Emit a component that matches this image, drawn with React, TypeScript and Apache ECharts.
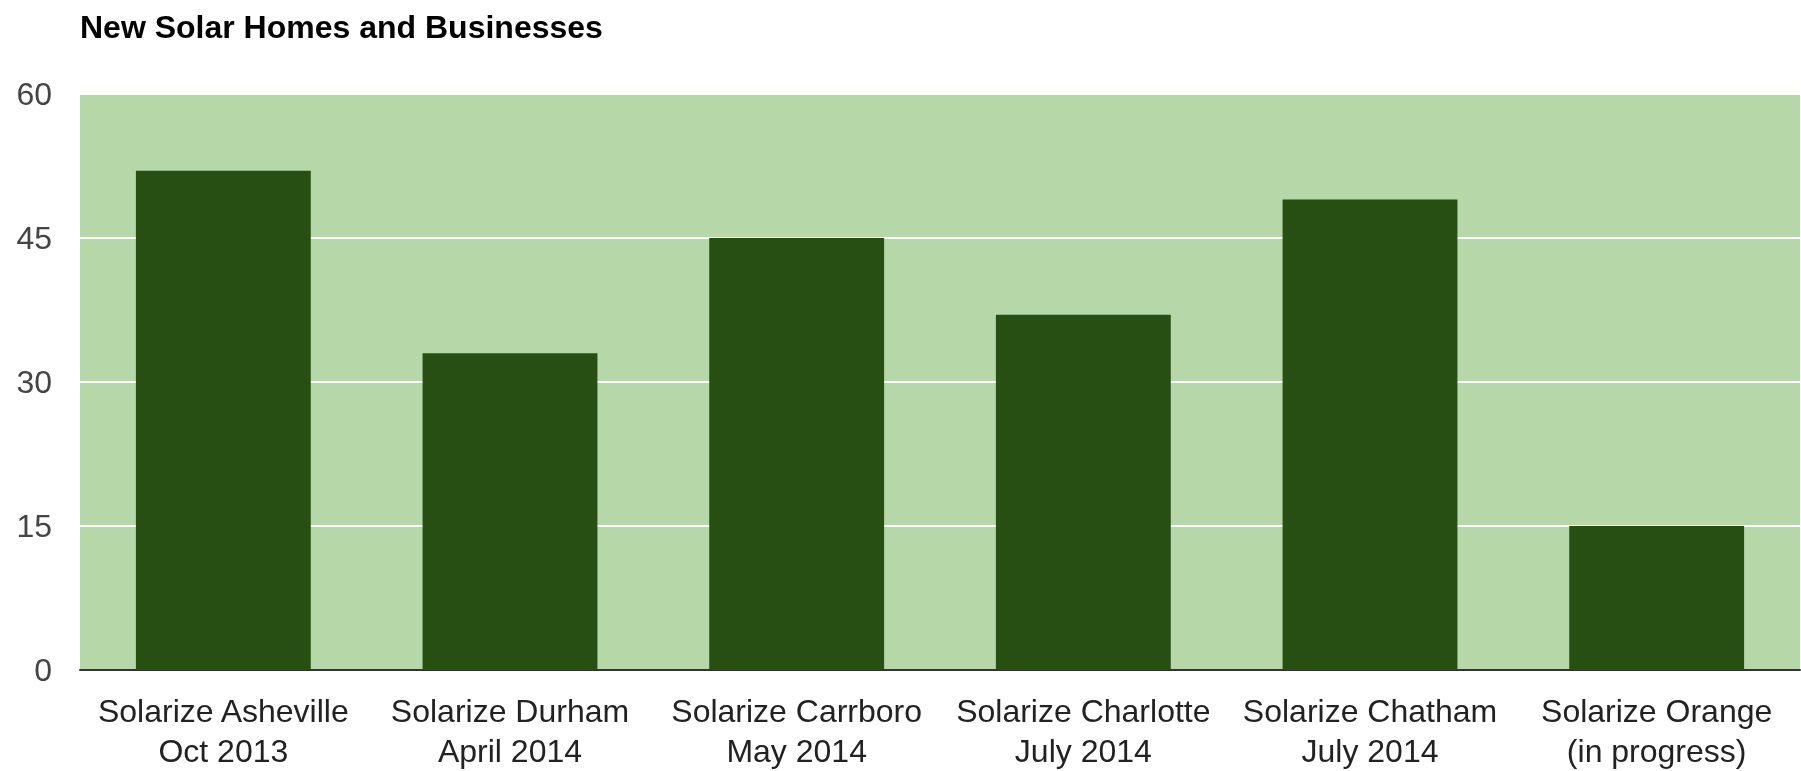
import React, { useEffect, useRef } from "react";
import * as echarts from "echarts";

const categories = [
  "Solarize Asheville\nOct 2013",
  "Solarize Durham\nApril 2014",
  "Solarize Carrboro\nMay 2014",
  "Solarize Charlotte\nJuly 2014",
  "Solarize Chatham\nJuly 2014",
  "Solarize Orange\n(in progress)",
];
const values = [52, 33, 45, 37, 49, 15];
const yTicks = [0, 15, 30, 45, 60];
const title = "New Solar Homes and Businesses";

export default function App() {
  const ref = useRef<HTMLDivElement>(null);
  useEffect(() => {
    document.body.style.margin = "0";
    const chart = echarts.init(ref.current!, null, { renderer: "svg" });
    chart.setOption({
      animation: false,
      textStyle: { fontFamily: "Liberation Sans, Arial, sans-serif" },
      title: {
        text: title,
        left: 75,
        top: 6,
        textStyle: { fontSize: 32, fontWeight: "bold", color: "#000", fontFamily: "Liberation Sans, Arial, sans-serif" },
      },
      grid: {
        left: 80,
        right: 1,
        top: 94,
        bottom: 99,
        show: true,
        backgroundColor: "#b6d7a8",
        borderWidth: 0,
      },
      xAxis: {
        type: "category",
        data: categories,
        axisTick: { show: false },
        axisLine: { show: true, lineStyle: { color: "#333", width: 2 } },
        axisLabel: {
          color: "#222",
          fontSize: 32,
          lineHeight: 40,
          margin: 21,
          interval: 0,
          fontFamily: "Liberation Sans, Arial, sans-serif",
        },
      },
      yAxis: {
        type: "value",
        min: yTicks[0],
        max: yTicks[yTicks.length - 1],
        interval: 15,
        axisLine: { show: false },
        axisTick: { show: false },
        splitLine: { show: true, lineStyle: { color: "#ffffff", width: 2 } },
        axisLabel: {
          color: "#444",
          fontSize: 32,
          margin: 28,
          fontFamily: "Liberation Sans, Arial, sans-serif",
        },
      },
      series: [
        {
          type: "bar",
          data: values,
          barCategoryGap: "39%",
          itemStyle: { color: "#274e13" },
        },
      ],
    });
    return () => chart.dispose();
  }, []);
  return (
    <div
      ref={ref}
      style={{ position: "fixed", left: 0, top: 0, width: 1801, height: 771 }}
    />
  );
}
